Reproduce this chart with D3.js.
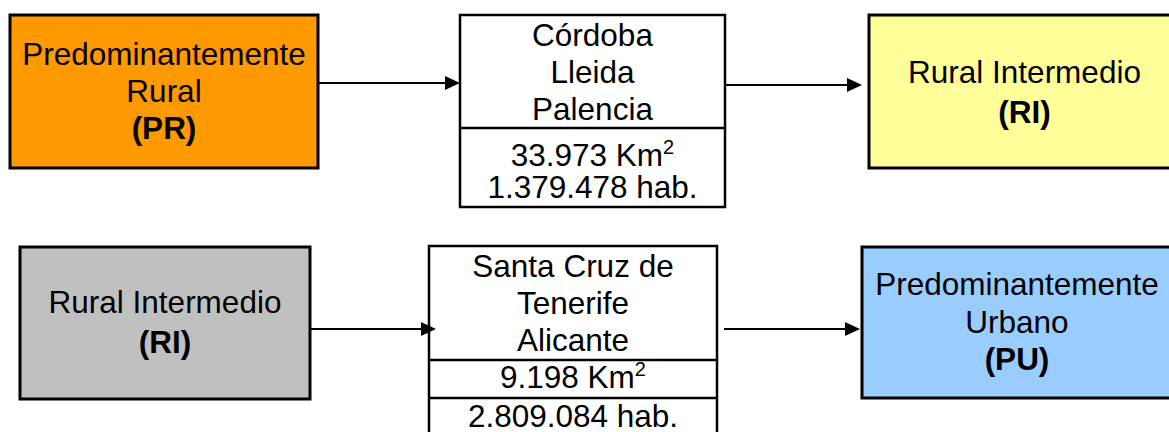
<html>
<head>
<meta charset="utf-8">
<style>
  body { margin: 0; background: #fff; }
  text { font-family: "Liberation Sans", Arial, sans-serif; font-size: 31.5px; fill: #000; }
</style>
</head>
<body>
<svg width="1169" height="432"></svg>
<script src="https://d3js.org/d3.v7.min.js"></script>
<script>
// ---- data ----
var fromLabels = [
  ["Predominantemente", "Rural", "(PR)"],
  ["Rural Intermedio", "(RI)"]
];
var fromColors = ["#FF9900", "#C0C0C0"];
var provinces = [
  ["Córdoba", "Lleida", "Palencia"],
  ["Santa Cruz de", "Tenerife", "Alicante"]
];
var areaKm2 = ["33.973", "9.198"];
var population = ["1.379.478", "2.809.084"];
var toLabels = [
  ["Rural Intermedio", "(RI)"],
  ["Predominantemente", "Urbano", "(PU)"]
];
var toColors = ["#FFFF99", "#99CCFF"];

// ---- layout (pixels) ----
var rows = [
  { from: {x: 10, y: 15, w: 308, h: 153, base: 65, lh: 37, sw: 3},
    mid:  {x: 460, y: 15, w: 265, h: 192, base: 46, lh: 37, div: [128], info: [166, 198], sw: 2.5},
    to:   {x: 869, y: 15, w: 311, h: 153, base: 83, lh: 40, sw: 3},
    ay: [83, 85], a1: [318, 460], a2: [726, 862] },
  { from: {x: 20, y: 247, w: 290, h: 152, base: 313, lh: 40, sw: 3},
    mid:  {x: 429, y: 246, w: 288, h: 210, base: 277, lh: 37, div: [360, 398], info: [388, 427], sw: 2.5},
    to:   {x: 862, y: 247, w: 310, h: 151, base: 295, lh: 37.5, sw: 3},
    ay: [329, 329], a1: [310, 436], a2: [724, 860] }
];

var svg = d3.select("svg");

function box(b, fill) {
  svg.append("rect")
    .attr("x", b.x).attr("y", b.y).attr("width", b.w).attr("height", b.h)
    .attr("fill", fill).attr("stroke", "#000").attr("stroke-width", b.sw);
}

function lines(b, arr) {
  var cx = b.x + b.w / 2;
  arr.forEach(function(t, i) {
    svg.append("text")
      .attr("x", cx).attr("y", b.base + i * b.lh)
      .attr("text-anchor", "middle")
      .attr("font-weight", /^\(/.test(t) ? "bold" : "normal")
      .text(t);
  });
}

function arrow(x0, x1, y) {
  svg.append("line")
    .attr("x1", x0).attr("x2", x1 - 12).attr("y1", y).attr("y2", y)
    .attr("stroke", "#000").attr("stroke-width", 2);
  svg.append("path")
    .attr("d", d3.line()([[x1 - 15, y - 7], [x1, y], [x1 - 15, y + 7]]) + "Z")
    .attr("fill", "#000");
}

rows.forEach(function(r, i) {
  // source box
  box(r.from, fromColors[i]);
  lines(r.from, fromLabels[i]);

  // middle box with provinces and figures
  box(r.mid, "#fff");
  r.mid.div.forEach(function(y) {
    svg.append("line")
      .attr("x1", r.mid.x).attr("x2", r.mid.x + r.mid.w)
      .attr("y1", y).attr("y2", y)
      .attr("stroke", "#000").attr("stroke-width", 2.5);
  });
  lines(r.mid, provinces[i]);
  var cx = r.mid.x + r.mid.w / 2;
  var area = svg.append("text")
    .attr("x", cx).attr("y", r.mid.info[0])
    .attr("text-anchor", "middle");
  area.append("tspan").text(areaKm2[i] + " Km");
  area.append("tspan").attr("dy", -12).attr("font-size", "20px").text("2");
  svg.append("text")
    .attr("x", cx).attr("y", r.mid.info[1])
    .attr("text-anchor", "middle")
    .text(population[i] + " hab.");

  // target box
  box(r.to, toColors[i]);
  lines(r.to, toLabels[i]);

  arrow(r.a1[0], r.a1[1], r.ay[0]);
  arrow(r.a2[0], r.a2[1], r.ay[1]);
});
</script>
</body>
</html>
